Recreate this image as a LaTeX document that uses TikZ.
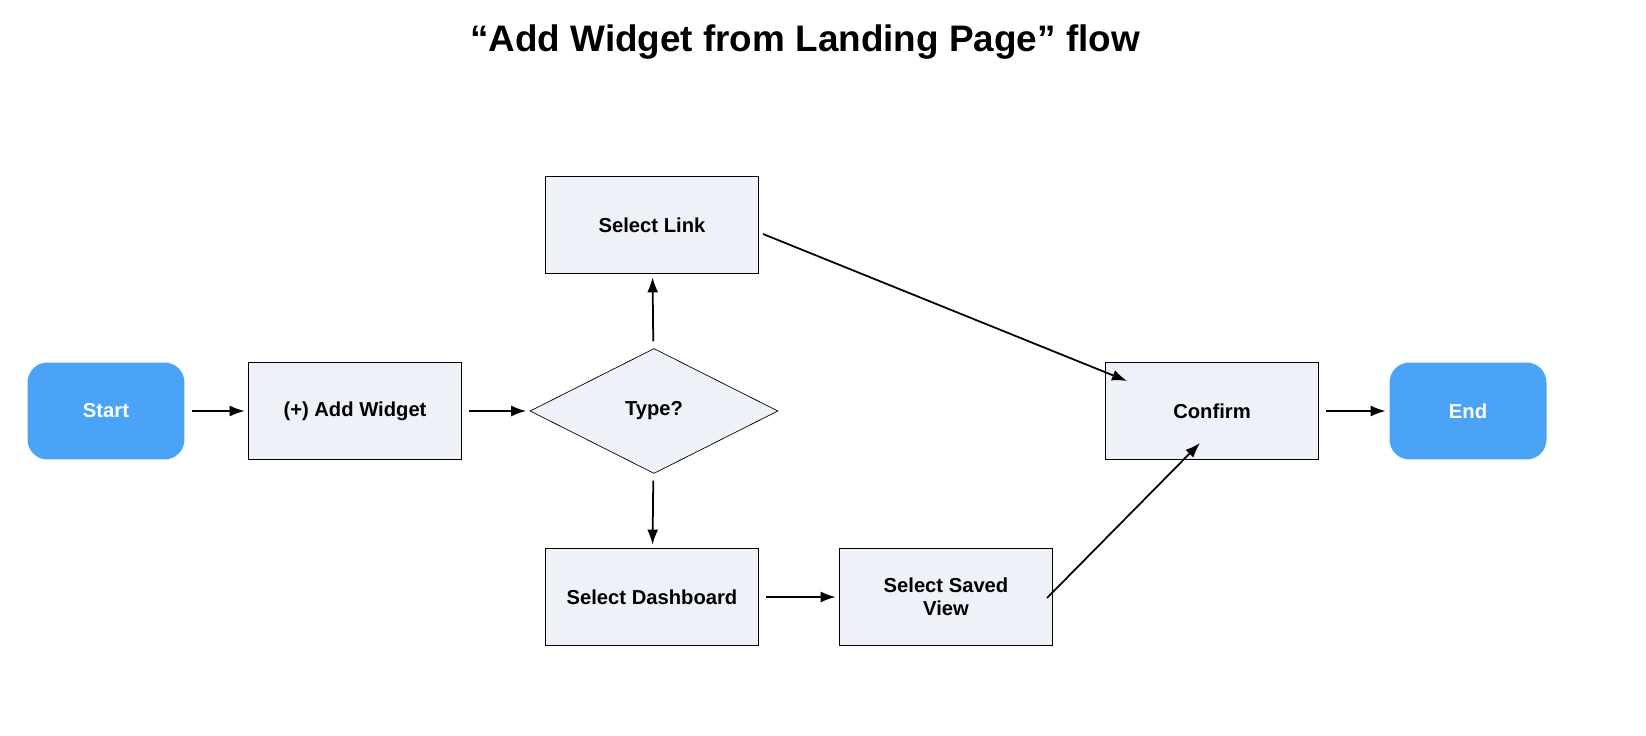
\documentclass[tikz,border=0pt]{standalone}
\usepackage{fontspec}
\setmainfont{Liberation Sans}
\usetikzlibrary{shapes.geometric, arrows.meta}
\definecolor{termblue}{HTML}{4AA3F7}
\definecolor{boxfill}{HTML}{EEF2F8}

\begin{document}
\begin{tikzpicture}[x=0.02cm, y=-0.02cm, font=\fontsize{11.5}{13}\selectfont\bfseries]
                \tikzstyle{term} = [rounded corners=0.4cm, fill=termblue, text=white, minimum width=3.14cm, minimum height=1.94cm]
                \tikzstyle{stepbox} = [draw, fill=boxfill, minimum width=4.26cm, minimum height=1.94cm, align=center]
                \tikzstyle{arr} = [-{Latex[length=3mm, width=2.2mm]}, line width=1pt, shorten >=2pt, shorten <=4pt]

                \node[font=\fontsize{21}{25}\selectfont\bfseries] (title) at (805,42) {“Add Widget from Landing Page” flow};

                % Main row
                \node[term] (start) at (106,411) {Start};
                \node[stepbox] (add) at (355,411) {(+) Add Widget};
                \node[diamond, draw, fill=boxfill, aspect=2, minimum width=4.96cm, minimum height=2.5cm, inner sep=0pt] (type) at (654,411) {Type?};
                \node[stepbox] (confirm) at (1212,411) {Confirm};
                \node[term] (end) at (1468,411) {End};

                % Branches
                \node[stepbox] (link) at (652,225) {Select Link};
                \node[stepbox] (dash) at (652,597) {Select Dashboard};
                \node[stepbox] (view) at (946,597) {Select Saved\\View};

                % Free ends of the slanted arrows
                \coordinate (linkout) at (763,234);
                \coordinate (confirmin) at (1127,381);
                \coordinate (viewout) at (1047,598);
                \coordinate (confirmlow) at (1200,443);

                % Arrows
                \draw[arr] (start) -- (add);
                \draw[arr] (add) -- (type);
                \draw[arr] (type) -- (link);
                \draw[arr] (type) -- (dash);
                \draw[arr] (dash) -- (view);
                \draw[arr, shorten <=0pt, shorten >=0pt] (linkout) -- (confirmin);
                \draw[arr, shorten <=0pt, shorten >=0pt] (viewout) -- (confirmlow);
                \draw[arr] (confirm) -- (end);

                \pgfresetboundingbox
                \useasboundingbox (0,0) rectangle (1646,736);
            \end{tikzpicture}
\end{document}
